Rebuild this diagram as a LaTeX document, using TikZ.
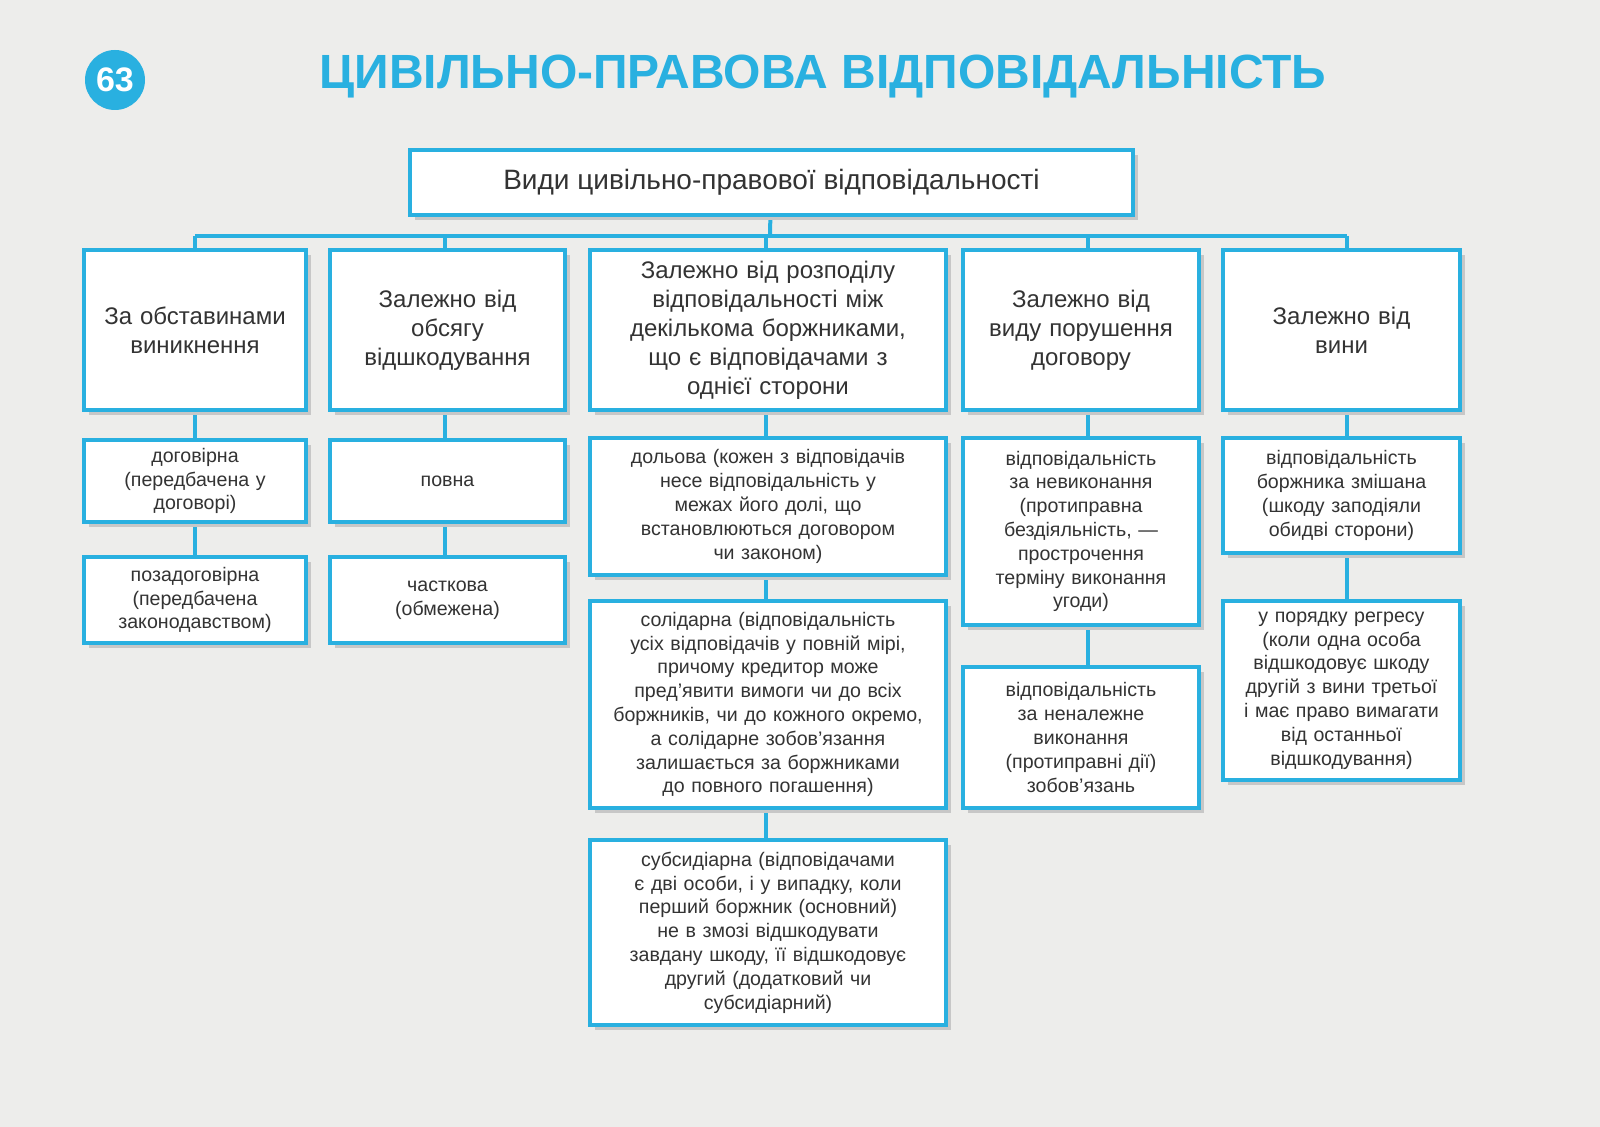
\documentclass[tikz,border=0pt]{standalone}
\usepackage{fontspec}
\setmainfont{Liberation Sans}
\usetikzlibrary{shadows}
\definecolor{cy}{HTML}{29B0E0}
\definecolor{bg}{HTML}{EDEDEB}
\definecolor{tx}{HTML}{333333}
\begin{document}
\begin{tikzpicture}[x=0.5pt,y=-0.5pt,
 box/.style={draw=cy,line width=2pt,fill=white,text=tx,align=center,inner sep=1pt,
   drop shadow={shadow xshift=2.5pt,shadow yshift=-2.5pt,fill=black!22,opacity=1}},
 hd/.style={box,font=\fontsize{12}{14.5}\selectfont},
 sm/.style={box,font=\fontsize{9.8}{11.9}\selectfont},
 ln/.style={draw=cy,line width=2pt}]
\fill[bg] (0,0) rectangle (1600,1127);
\useasboundingbox (0,0) rectangle (1600,1127);
\node[circle,fill=cy,minimum size=30pt,inner sep=0pt,text=white,font=\bfseries\fontsize{17}{17}\selectfont] (num) at (115,80) {63};
\node[text=cy,font=\bfseries\fontsize{24}{24}\selectfont] (title) at (823,77) {ЦИВІЛЬНО-ПРАВОВА ВІДПОВІДАЛЬНІСТЬ};
% connectors
\coordinate (bus) at (770,236);
\draw[ln] (771,183) -- (bus);
\draw[ln] (195,236) -- (1347,236);
\foreach \x in {195,445,766,1088,1347} \draw[ln] (\x,236) -- (\x,260);
\draw[ln] (195,330) -- (195,600);
\draw[ln] (445,330) -- (445,600);
\draw[ln] (766,330) -- (766,930);
\draw[ln] (1088,330) -- (1088,730);
\draw[ln] (1347,330) -- (1347,690);
% boxes
\node[box,font=\fontsize{14}{16}\selectfont,minimum width=361.5pt,minimum height=32.5pt] (t) at (771.5,182.5) {Види цивільно-правової відповідальності};
\node[hd,minimum width=111pt,minimum height=80pt,text width=105pt] (a) at (195,330) {За обставинами\\виникнення\\[14pt]};
\node[hd,minimum width=117.5pt,minimum height=80pt,text width=110pt] (b) at (447.5,330) {Залежно від\\обсягу\\відшкодування};
\node[hd,minimum width=178pt,minimum height=80pt,text width=172pt] (c) at (768,330) {Залежно від розподілу\\відповідальності між\\декількома боржниками,\\що є відповідачами з\\однієї сторони};
\node[hd,minimum width=118pt,minimum height=80pt,text width=112pt] (d) at (1081,330) {Залежно від\\виду порушення\\договору\\[8pt]};
\node[hd,minimum width=118.5pt,minimum height=80pt,text width=112pt] (e) at (1341.5,330) {Залежно від\\вини};
\node[sm,minimum width=111pt,minimum height=41pt,text width=105pt] (a1) at (195,481) {договірна\\(передбачена у\\договорі)};
\node[sm,minimum width=111pt,minimum height=43pt,text width=105pt] (a2) at (195,600) {позадоговірна\\(передбачена\\законодавством)};
\node[sm,minimum width=117.5pt,minimum height=41pt,text width=110pt] (b1) at (447.5,481) {повна\\[18pt]};
\node[sm,minimum width=117.5pt,minimum height=43pt,text width=110pt] (b2) at (447.5,600) {часткова\\(обмежена)};
\node[sm,minimum width=178pt,minimum height=68.5pt,text width=172pt] (c1) at (768,506.5) {дольова (кожен з відповідачів\\несе відповідальність у\\межах його долі, що\\встановлюються договором\\чи законом)};
\node[sm,minimum width=178pt,minimum height=103.5pt,text width=174pt] (c2) at (768,704.5) {солідарна (відповідальність\\усіх відповідачів у повній мірі,\\причому кредитор може\\пред’явити вимоги чи до всіх\\боржників, чи до кожного окремо,\\а солідарне зобов’язання\\залишається за боржниками\\до повного погашення)};
\node[sm,minimum width=178pt,minimum height=92.5pt,text width=172pt] (c3) at (768,932.5) {субсидіарна (відповідачами\\є дві особи, і у випадку, коли\\перший боржник (основний)\\не в змозі відшкодувати\\завдану шкоду, її відшкодовує\\другий (додатковий чи\\субсидіарний)};
\node[sm,minimum width=118pt,minimum height=93.5pt,text width=112pt] (d1) at (1081,531.5) {відповідальність\\за невиконання\\(протиправна\\бездіяльність, —\\прострочення\\терміну виконання\\угоди)};
\node[sm,minimum width=118pt,minimum height=70.5pt,text width=112pt] (d2) at (1081,737.5) {відповідальність\\за неналежне\\виконання\\(протиправні дії)\\зобов’язань};
\node[sm,minimum width=118.5pt,minimum height=57.5pt,text width=114pt] (e1) at (1341.5,495.5) {відповідальність\\боржника змішана\\(шкоду заподіяли\\обидві сторони)};
\node[sm,minimum width=118.5pt,minimum height=89.5pt,text width=114pt] (e2) at (1341.5,690.5) {у порядку регресу\\(коли одна особа\\відшкодовує шкоду\\другій з вини третьої\\і має право вимагати\\від останньої\\відшкодування)};
\end{tikzpicture}
\end{document}
